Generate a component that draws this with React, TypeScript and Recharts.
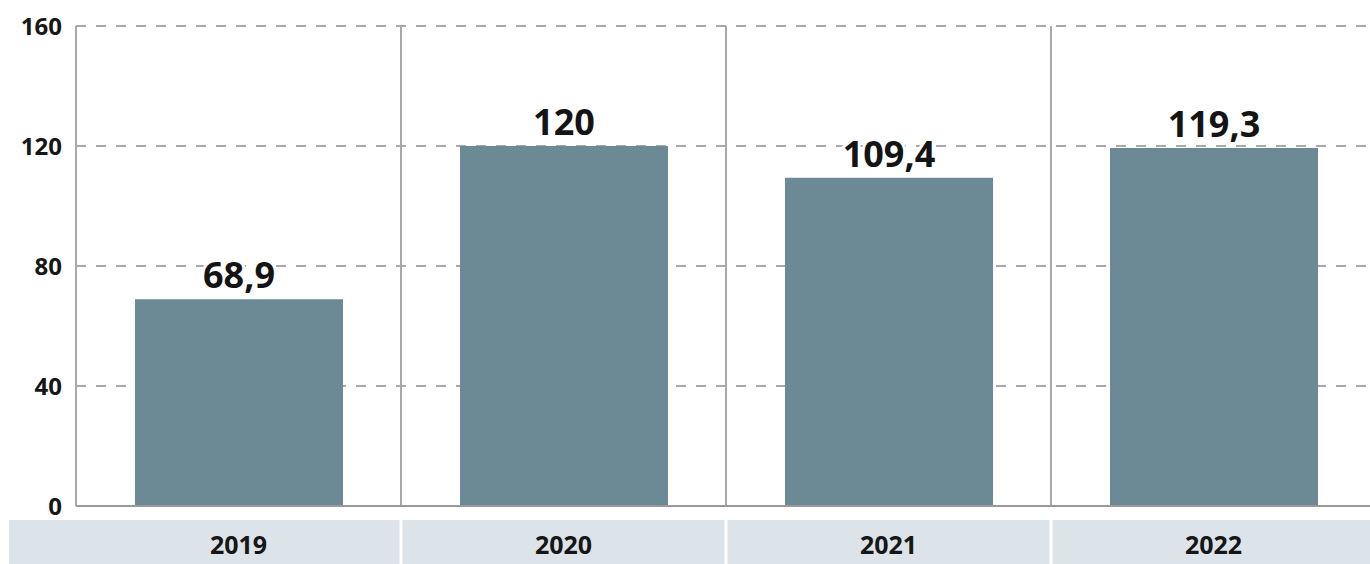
import { BarChart, Bar, XAxis, YAxis, CartesianGrid, LabelList } from 'recharts';

// datos del gráfico
const anios = ['2019', '2020', '2021', '2022'];
const valores = [68.9, 120, 109.4, 119.3];
const ticksY = [0, 40, 80, 120, 160];

const data = anios.map((anio, i) => ({ anio, valor: valores[i] }));

const ANCHO = 1380;
const ALTO = 564;
const MARGEN = { top: 26, right: 4, left: 0, bottom: 0 };
const ANCHO_EJE_Y = 76;
const ALTO_EJE_X = 58;
const FUENTE = '"Open Sans", "Noto Sans", sans-serif';

const anchoBanda = (ANCHO - MARGEN.left - MARGEN.right - ANCHO_EJE_Y) / anios.length;

// etiqueta del eje X con la franja gris-azulada de fondo
const TickAnio = ({ x, y, payload, index }: any) => {
  const izq = index === 0 ? 9 : x - anchoBanda / 2 + 1.5;
  const der = x + anchoBanda / 2 - 1.5;
  return (
    <g>
      <rect x={izq} y={y + 6} width={der - izq} height={60} fill="#dce3e9" />
      <text x={x} y={y + 40} textAnchor="middle" fontFamily={FUENTE} fontWeight={700} fontSize={25} fill="#161616">
        {payload.value}
      </text>
    </g>
  );
};

// valor encima de cada barra, con halo blanco para tapar la rejilla
const EtiquetaValor = ({ x, y, width, value }: any) => (
  <text
    x={x + width / 2}
    y={y - 11}
    textAnchor="middle"
    fontFamily={FUENTE}
    fontWeight={700}
    fontSize={36}
    fill="#141414"
    stroke="#fff"
    strokeWidth={6}
    paintOrder="stroke"
  >
    {String(value).replace('.', ',')}
  </text>
);

export default function App() {
  return (
    <div style={{ position: 'absolute', left: 0, top: 0, width: 1370, height: 564, overflow: 'hidden', background: '#fff' }}>
      <BarChart width={ANCHO} height={ALTO} data={data} margin={MARGEN}>
        <CartesianGrid horizontal={true} vertical={false} strokeDasharray="10 10" stroke="#a8a8a8" strokeWidth={2} />
        <CartesianGrid
          horizontal={false}
          vertical={true}
          stroke="#a8a8a8"
          strokeWidth={2}
          verticalCoordinatesGenerator={({ offset }: any) =>
            Array.from({ length: anios.length + 1 }, (_, i) => offset.left + (i * offset.width) / anios.length)
          }
        />
        <XAxis
          dataKey="anio"
          height={ALTO_EJE_X}
          axisLine={{ stroke: '#9a9a9a', strokeWidth: 2 }}
          tickLine={false}
          tick={<TickAnio />}
          interval={0}
        />
        <YAxis
          width={ANCHO_EJE_Y}
          domain={[0, 160]}
          ticks={ticksY}
          axisLine={false}
          tickLine={false}
          tickMargin={8}
          tick={{ fontFamily: FUENTE, fontWeight: 700, fontSize: 24, fill: '#161616' }}
        />
        <Bar dataKey="valor" fill="#6b8a96" barSize={208} isAnimationActive={false}>
          <LabelList dataKey="valor" content={<EtiquetaValor />} />
        </Bar>
      </BarChart>
    </div>
  );
}
